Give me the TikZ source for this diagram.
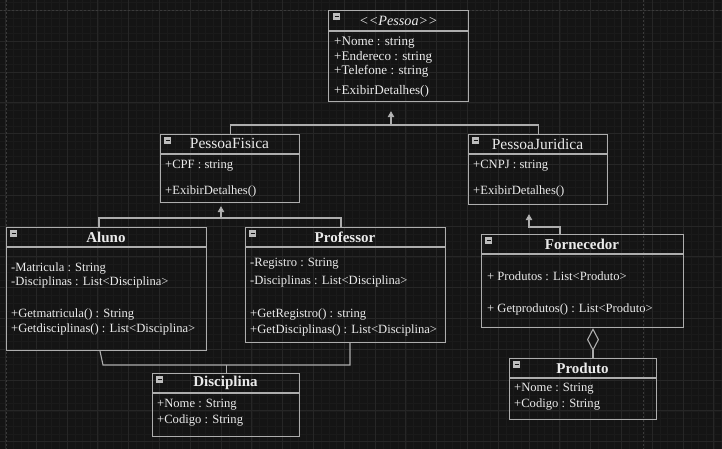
\documentclass[tikz,border=0pt]{standalone}
\usepackage{fontspec}
\setmainfont{Liberation Serif}
\usetikzlibrary{arrows.meta,calc}
\definecolor{bg}{HTML}{141414}
\definecolor{gridmin}{HTML}{1A1A1A}
\definecolor{gridmaj}{HTML}{262626}
\definecolor{pageb}{HTML}{3A3A3A}
\definecolor{strokec}{HTML}{ADADAD}
\definecolor{txt}{HTML}{EBEBEB}
\definecolor{iconc}{HTML}{BDBDBD}
\tikzset{
  box/.style={draw=strokec, line width=1.1pt, inner sep=0pt, anchor=north west},
  hline/.style={draw=strokec, line width=1.1pt},
  attr/.style={anchor=west, inner sep=0pt, text=txt, font=\fontsize{12.6}{14}\selectfont},
  ttl/.style={anchor=center, inner sep=0pt, text=txt, font=\fontsize{15}{18}\selectfont\bfseries},
  ttlr/.style={anchor=center, inner sep=0pt, text=txt, font=\fontsize{15.5}{18}\selectfont},
  conn/.style={draw=strokec, line width=1.1pt},
  inh/.style={conn, -{Triangle[width=6.5pt,length=6pt,fill=iconc]}},
  agg/.style={conn, {Diamond[open,fill=bg,width=12pt,length=23pt]}-},
  icon/.style={fill=iconc, draw=none, minimum width=7pt, minimum height=6.5pt, inner sep=0pt, anchor=north west},
}
\newcommand{\clsicon}[2]{\node[icon] (#1) at (#2) {};
  \draw[bg, line width=0.9pt] ($(#1.west)+(1.5,0)$) -- ($(#1.east)+(-1.5,0)$);}
\begin{document}
\begin{tikzpicture}[x=1pt,y=-1pt]
\fill[bg] (0,0) rectangle (722,449);
\useasboundingbox (0,0) rectangle (722,449);
% grid
\foreach \i in {-1,...,95} {
  \draw[gridmin, line width=0.6pt] ({5.5+7.7*\i},0) -- ({5.5+7.7*\i},449);
}
\foreach \i in {-2,...,60} {
  \draw[gridmin, line width=0.6pt] (0,{10.5+7.7*\i}) -- (722,{10.5+7.7*\i});
}
\foreach \i in {0,...,24} {
  \draw[gridmaj, line width=0.9pt] ({5.5+30.8*\i},0) -- ({5.5+30.8*\i},449);
}
\foreach \i in {0,...,15} {
  \draw[gridmaj, line width=0.9pt] (0,{10.5+30.8*\i}) -- (722,{10.5+30.8*\i});
}
% page borders
\draw[pageb, line width=0.9pt, dash pattern=on 2pt off 2pt] (6,0) -- (6,449);
\draw[pageb, line width=0.9pt, dash pattern=on 2pt off 2pt] (643,0) -- (643,449);
\draw[pageb, line width=0.9pt, dash pattern=on 2pt off 2pt] (0,10) -- (722,10);

% ---------- Pessoa ----------
\node[box, minimum width=140pt, minimum height=91pt] (pessoa) at (328,10) {};
\draw[hline] (328,31) -- (468,31);
\clsicon{pessoaI}{333,13}
\node[anchor=center, inner sep=0pt, text=txt, font=\fontsize{14.2}{17}\selectfont\itshape] (pessoaT) at (398.5,20.5) {<{}<Pessoa>{}>};
\node[attr, font=\fontsize{13.1}{14}\selectfont] (pessoaA1) at (334,43) {+Nome : string};
\node[attr, font=\fontsize{13.1}{14}\selectfont] (pessoaA2) at (334,57) {+Endereco : string};
\node[attr, font=\fontsize{13.1}{14}\selectfont] (pessoaA3) at (334,71) {+Telefone : string};
\node[attr, font=\fontsize{13.1}{14}\selectfont] (pessoaM1) at (334,91) {+ExibirDetalhes()};

% ---------- PessoaFisica ----------
\node[box, minimum width=139pt, minimum height=68pt] (pfis) at (160,134) {};
\draw[hline] (160,154) -- (299,154);
\clsicon{pfisI}{164,137}
\node[ttlr] (pfisT) at (229.5,143.5) {PessoaFisica};
\node[attr] (pfisA1) at (165,166) {+CPF : string};
\node[attr] (pfisM1) at (165,191) {+ExibirDetalhes()};

% ---------- PessoaJuridica ----------
\node[box, minimum width=139pt, minimum height=70pt] (pjur) at (468,134) {};
\draw[hline] (468,154) -- (607,154);
\clsicon{pjurI}{472,137}
\node[ttlr] (pjurT) at (537.5,144) {PessoaJuridica};
\node[attr] (pjurA1) at (473,166) {+CNPJ : string};
\node[attr] (pjurM1) at (473,191) {+ExibirDetalhes()};

% ---------- Aluno ----------
\node[box, minimum width=200pt, minimum height=123pt] (aluno) at (6,227) {};
\draw[hline] (6,247) -- (206,247);
\clsicon{alunoI}{10,230}
\node[ttl] (alunoT) at (106,237) {Aluno};
\node[attr] (alunoA1) at (11,268) {-Matricula : String};
\node[attr] (alunoA2) at (11,282) {-Disciplinas : List<Disciplina>};
\node[attr] (alunoM1) at (11,314) {+Getmatricula() : String};
\node[attr] (alunoM2) at (11,329) {+Getdisciplinas() : List<Disciplina>};

% ---------- Professor ----------
\node[box, minimum width=200pt, minimum height=115pt] (prof) at (245,227) {};
\draw[hline] (245,247) -- (445,247);
\clsicon{profI}{249,230}
\node[ttl] (profT) at (345,237) {Professor};
\node[attr] (profA1) at (250,264) {-Registro : String};
\node[attr] (profA2) at (250,281) {-Disciplinas : List<Disciplina>};
\node[attr] (profM1) at (250,314) {+GetRegistro() : string};
\node[attr] (profM2) at (250,330) {+GetDisciplinas() : List<Disciplina>};

% ---------- Disciplina ----------
\node[box, minimum width=147pt, minimum height=63pt] (disc) at (152,373) {};
\draw[hline] (152,393) -- (299,393);
\clsicon{discI}{156,376}
\node[ttl] (discT) at (225.5,383) {Disciplina};
\node[attr] (discA1) at (157,405) {+Nome : String};
\node[attr] (discA2) at (157,420) {+Codigo : String};

% ---------- Fornecedor ----------
\node[box, minimum width=202pt, minimum height=93pt] (forn) at (481,234) {};
\draw[hline] (481,254) -- (683,254);
\clsicon{fornI}{485,237}
\node[ttl] (fornT) at (582,244) {Fornecedor};
\node[attr] (fornA1) at (487,276) {+ Produtos : List<Produto>};
\node[attr] (fornM1) at (487,309) {+ Getprodutos() : List<Produto>};

% ---------- Produto ----------
\node[box, minimum width=147pt, minimum height=61pt] (prod) at (509,358) {};
\draw[hline] (509,378) -- (656,378);
\clsicon{prodI}{513,361}
\node[ttl] (prodT) at (582.5,368) {Produto};
\node[attr] (prodA1) at (514,389) {+Nome : String};
\node[attr] (prodA2) at (514,404) {+Codigo : String};

% ---------- connectors ----------
% PessoaFisica / PessoaJuridica -> Pessoa
\coordinate (tp) at (391,125);
\draw[conn] (pfis.north) -- (pfis.north |- tp) -- (pjur.north |- tp) -- (pjur.north);
\draw[inh] (tp) -- ($(pessoa.south -| tp)+(0,9)$);
% Aluno / Professor -> PessoaFisica
\coordinate (h1) at (99,218);
\coordinate (h2) at (341,218);
\coordinate (h3) at (221,218);
\draw[conn] (aluno.north -| h1) -- (h1) -- (h2) -- (prof.north -| h2);
\draw[inh] (h3) -- ($(pfis.south -| h3)+(0,3)$);
% Fornecedor -> PessoaJuridica
\coordinate (f1) at (560,227);
\coordinate (f2) at (529,227);
\draw[inh] (forn.north -| f1) -- (f1) -- (f2) -- ($(pjur.south -| f2)+(0,9)$);
% Aluno, Professor -- Disciplina
\coordinate (a0) at (100,350);
\coordinate (a1) at (103,365);
\coordinate (a2) at (350,365);
\draw[conn] (aluno.south -| a0) -- (a1) -- (a2) -- (prof.south -| a2);
\draw[conn] (disc.north |- a1) -- (disc.north);
% Fornecedor <>-- Produto
\coordinate (dm) at (593,340);
\draw[agg] (forn.south -| dm) -- (prod.north -| dm);
\end{tikzpicture}
\end{document}
